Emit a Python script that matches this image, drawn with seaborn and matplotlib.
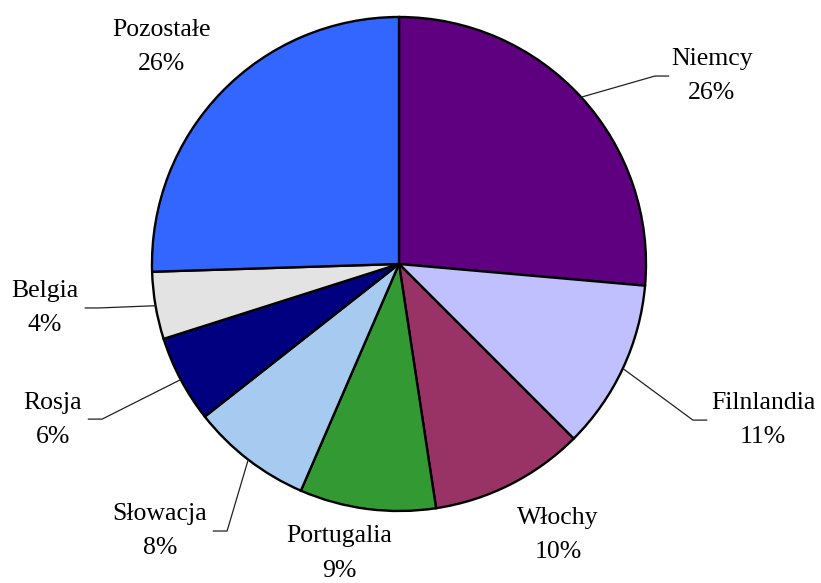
import numpy as np
import seaborn as sns
from matplotlib import pyplot as plt

countries = ["Niemcy", "Filnlandia", "Włochy", "Portugalia",
             "Słowacja", "Rosja", "Belgia", "Pozostałe"]
shares = [26.4, 11.1, 10.1, 8.9, 7.9, 5.7, 4.4, 25.5]
colors = ["#5F0080", "#C0C0FF", "#993366", "#339933",
          "#A6CAF0", "#000080", "#E3E3E3", "#3366FF"]

# label layout in pie-radius units: text centre, leader kink (None = no leader)
label_centres = [(1.267, 0.761), (1.474, -0.632), (0.644, -1.097), (-0.243, -1.172),
                 (-0.968, -1.081), (-1.401, -0.632), (-1.433, -0.178), (-0.960, 0.879)]
leader_kinks = [(1.036, 0.761), (1.190, -0.632), None, None,
                (-0.696, -1.081), (-1.202, -0.628), (-1.215, -0.178), None]
HOOK = 0.058

sns.set_theme(style="white")
plt.rcParams["font.family"] = ["Liberation Serif", "DejaVu Serif"]

fig = plt.figure(figsize=(8.21, 5.83), dpi=100)
ax = fig.add_axes([0, 0, 1, 1])

wedges, _ = ax.pie(shares, colors=colors, startangle=90, counterclock=False,
                   radius=1.0, center=(0, 0),
                   wedgeprops=dict(edgecolor="black", linewidth=1.7))

for w, name, val, centre, kink in zip(wedges, countries, shares, label_centres, leader_kinks):
    mid = np.deg2rad((w.theta1 + w.theta2) / 2)
    if kink is not None:
        ex, ey = np.cos(mid), np.sin(mid)
        side = 1 if kink[0] > 0 else -1
        ax.plot([ex, kink[0], kink[0] + side * HOOK], [ey, kink[1], kink[1]],
                color="#222222", lw=0.9, solid_capstyle="butt")
    ax.text(centre[0], centre[1], f"{name}\n{val:.0f}%", ha="center", va="center",
            multialignment="center", fontsize=18.5, linespacing=1.75, color="black")

ax.set_xlim(-399 / 247, (821 - 399) / 247)
ax.set_ylim(-(583 - 264) / 247, 264 / 247)
ax.axis("off")

fig.savefig("out.png", dpi=100)
